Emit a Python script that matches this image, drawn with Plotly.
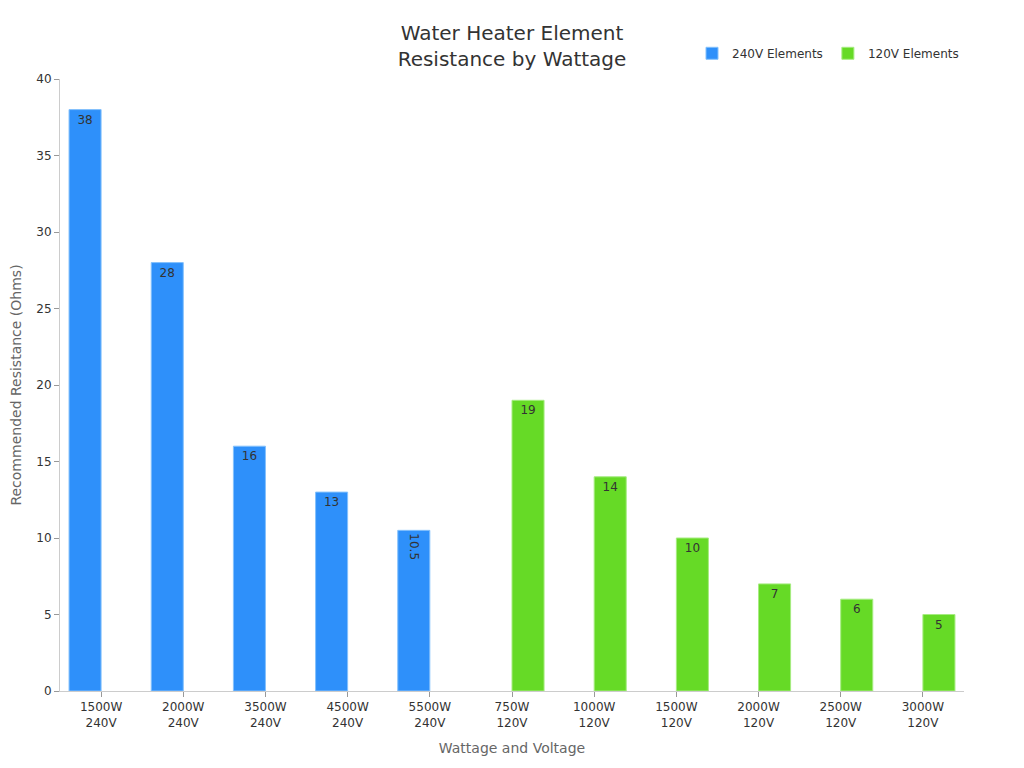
import plotly.graph_objects as go

categories = ["1500W<br>240V", "2000W<br>240V", "3500W<br>240V", "4500W<br>240V", "5500W<br>240V",
              "750W<br>120V", "1000W<br>120V", "1500W<br>120V", "2000W<br>120V", "2500W<br>120V", "3000W<br>120V"]
v240 = [38, 28, 16, 13, 10.5, None, None, None, None, None, None]
v120 = [None, None, None, None, None, 19, 14, 10, 7, 6, 5]

cat_ids = list(range(len(categories)))

fig = go.Figure()
fig.add_trace(go.Bar(
    name="240V Elements", x=cat_ids, y=v240,
    marker=dict(color="#2E90FA", line=dict(color="#84C1FC", width=1)),
    text=[("" if v is None else str(v)) for v in v240],
    textposition="inside", insidetextanchor="end",
    textfont=dict(color="#333333", size=12),
))
fig.add_trace(go.Bar(
    name="120V Elements", x=cat_ids, y=v120,
    marker=dict(color="#66DA26", line=dict(color="#A6EC80", width=1)),
    text=[("" if v is None else str(v)) for v in v120],
    textposition="inside", insidetextanchor="end",
    textfont=dict(color="#333333", size=12),
))

fig.update_layout(
    width=1024, height=768,
    barmode="group", bargap=0.22, bargroupgap=0,
    plot_bgcolor="white", paper_bgcolor="white",
    font=dict(family="DejaVu Sans", size=12, color="#333333"),
    margin=dict(l=52, r=68, t=71, b=85, autoexpand=False),
    title=dict(text="Water Heater Element<br>Resistance by Wattage", x=0.5, xref="paper", xanchor="center",
               y=0.958, yanchor="middle", font=dict(size=20, color="#333333")),
    legend=dict(orientation="h", x=1.0, xanchor="right", y=1.042, yanchor="middle",
                font=dict(size=12, color="#333333"), itemwidth=30),
    xaxis=dict(title=dict(text="Wattage and Voltage", font=dict(size=14, color="#666666"), standoff=14),
               tickmode="array", tickvals=cat_ids, ticktext=categories,
               range=[-0.5, len(categories) - 0.5], automargin=False,
               showline=True, linecolor="#cccccc", ticks="outside", tickcolor="#999999", ticklen=5,
               showgrid=False),
    yaxis=dict(title=dict(text="Recommended Resistance (Ohms)", font=dict(size=14, color="#666666")),
               range=[0, 40], dtick=5, showline=True, linecolor="#cccccc", ticks="outside",
               tickcolor="#999999", ticklen=5, showgrid=False, zeroline=False, automargin=False),
)

fig.write_html("out.html")
